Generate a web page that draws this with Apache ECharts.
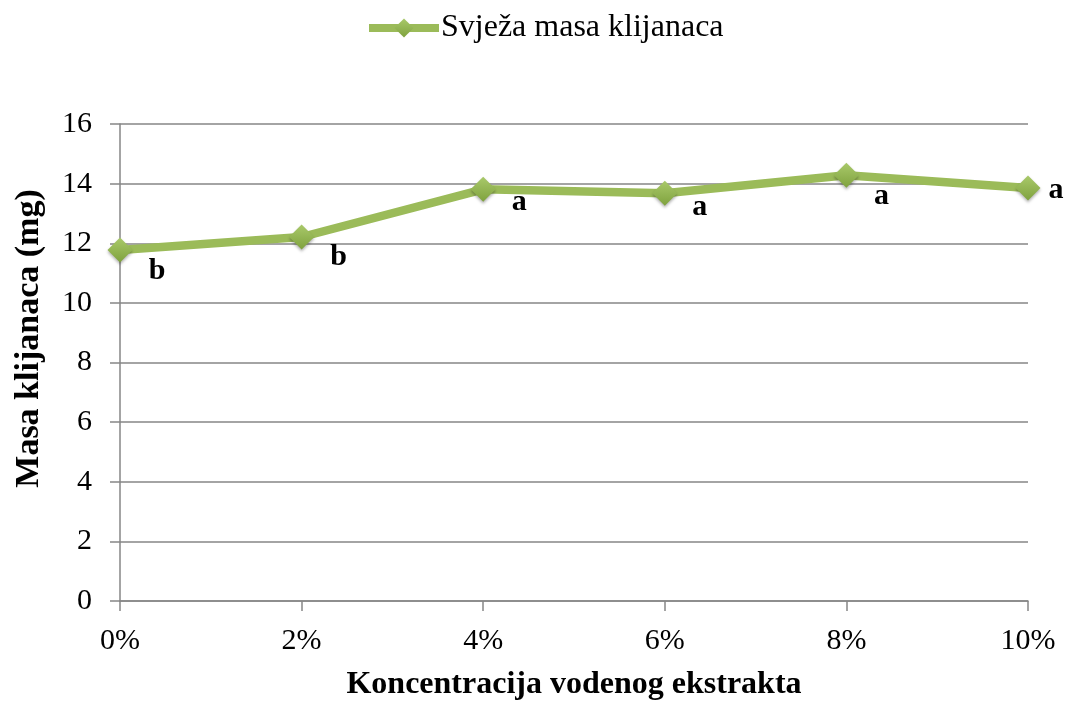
<!DOCTYPE html>
<html>
<head>
<meta charset="utf-8">
<script src="https://cdn.jsdelivr.net/npm/echarts@6/dist/echarts.min.js"></script>
<style>html,body{margin:0;padding:0;background:#fff}#c{width:1068px;height:701px}</style>
</head>
<body>
<div id="c"></div>
<script>
const categories = ['0%', '2%', '4%', '6%', '8%', '10%'];
const values = [11.77, 12.21, 13.81, 13.68, 14.28, 13.85];
const letters = ['b', 'b', 'a', 'a', 'a', 'a'];
const yTicks = { min: 0, max: 16, interval: 2 };
const seriesName = 'Svježa masa klijanaca';
const xTitle = 'Koncentracija vodenog ekstrakta';
const yTitle = 'Masa klijanaca (mg)';

const labelOffsets = [[37, 21], [37, 20], [36, 13], [35, 14], [35, 21], [28, 2]];
const FONT = '"Liberation Serif", "Times New Roman", serif';
const green = '#9BBB59';
const grey = '#868686';

const chart = echarts.init(document.getElementById('c'));
chart.setOption({
  animation: false,
  textStyle: { fontFamily: FONT },
  legend: {
    top: 12, left: 365, padding: 0,
    itemWidth: 70, itemHeight: 24, itemGap: 4,
    lineStyle: { width: 8, color: green },
    textStyle: { fontFamily: FONT, fontSize: 32, color: '#000', padding: [0, 0, 0, -3] },
    data: [seriesName]
  },
  grid: { left: 120, right: 40, top: 124, bottom: 100, containLabel: false, outerBoundsMode: 'none' },
  xAxis: {
    type: 'category', data: categories, boundaryGap: false,
    axisLine: { lineStyle: { color: grey, width: 1.5 } },
    axisTick: { show: true, alignWithLabel: true, length: 10, lineStyle: { color: grey, width: 1.5 } },
    axisLabel: { color: '#000', fontSize: 30, fontFamily: FONT, margin: 25 },
    splitLine: { show: false },
    name: xTitle, nameLocation: 'middle', nameGap: 68,
    nameTextStyle: { fontFamily: FONT, fontSize: 32, fontWeight: 'bold', color: '#000' }
  },
  yAxis: {
    type: 'value', min: yTicks.min, max: yTicks.max, interval: yTicks.interval,
    axisLine: { show: true, lineStyle: { color: grey, width: 1.5 } },
    axisTick: { show: true, length: 10, lineStyle: { color: grey, width: 1.5 } },
    axisLabel: { color: '#000', fontSize: 30, fontFamily: FONT, margin: 28 },
    splitLine: { show: true, lineStyle: { color: grey, width: 1.5 } },
    name: yTitle, nameLocation: 'middle', nameGap: 74, nameRotate: 90,
    nameTextStyle: { fontFamily: FONT, fontSize: 34, fontWeight: 'bold', color: '#000', padding: [0, 0, 0, 48] }
  },
  series: [{
    name: seriesName,
    type: 'line',
    data: values.map((v, i) => ({
      value: v,
      label: {
        show: true,
        formatter: letters[i],
        position: 'inside',
        offset: labelOffsets[i],
        fontFamily: FONT, fontSize: 30, fontWeight: 'bold', color: '#000'
      }
    })),
    symbol: 'diamond', symbolSize: 25,
    lineStyle: { color: green, width: 8.5 },
    itemStyle: {
      color: new echarts.graphic.LinearGradient(0, 0, 0, 1, [
        { offset: 0, color: '#a9c96a' }, { offset: 1, color: '#7fa23e' }
      ]),
      shadowColor: 'rgba(0,0,0,0.3)', shadowBlur: 3, shadowOffsetY: 2
    },
    z: 3
  }]
});
</script>
</body>
</html>
